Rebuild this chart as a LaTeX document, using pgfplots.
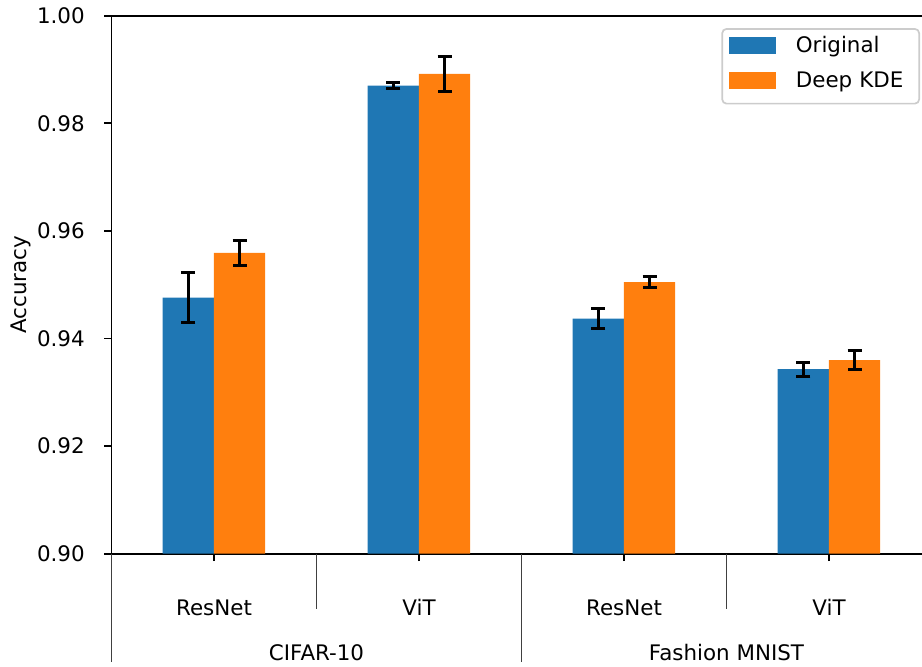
\documentclass[border=0pt]{standalone}
\usepackage{fontspec}
\setmainfont{DejaVu Sans}
\usepackage{pgfplots}
\pgfplotsset{compat=1.18}
\definecolor{tabblue}{HTML}{1F77B4}
\definecolor{taborange}{HTML}{FF7F0E}
\begin{document}
\begin{tikzpicture}
\path[use as bounding box] (0,0) rectangle (430.76pt,311.16pt);
\clip (0,0) rectangle (430.76pt,311.16pt);
\begin{axis}[
  at={(52.09pt,52.47pt)}, anchor=south west,
  scale only axis, width=383.1pt, height=251.35pt,
  xmin=-0.5, xmax=3.5, ymin=0.9, ymax=1.0,
  clip mode=individual,
  axis line style={line width=0.8pt, black},
  tick align=outside, major tick length=3.5pt,
  tick style={line width=0.8pt, black},
  xtick pos=left, ytick pos=left,
  xtick={0,1,2,3}, xticklabels={ResNet,ViT,ResNet,ViT},
  xticklabel style={anchor=base, inner sep=0pt, yshift=-25.5pt},
  ytick={0.90,0.92,0.94,0.96,0.98,1.00},
  /pgf/number format/assume math mode=true,
  yticklabel style={/pgf/number format/.cd, fixed, fixed zerofill, precision=2, /tikz/.cd, anchor=east, inner sep=0pt, xshift=-8.8pt},
  ylabel={Accuracy},
  ylabel style={at={(axis description cs:-0.1104,0.5)}, anchor=center},
  legend style={at={(0.986,0.977)}, anchor=north east, draw=black!20, line width=0.8pt,
    rounded corners=2pt, fill=white, inner xsep=3.3pt, inner ysep=3.5pt, row sep=4.9pt,
    nodes={inner sep=0pt, text height=7.5pt, text depth=4.0pt, text width=54.3pt, align=left},
    /tikz/every odd column/.append style={column sep=9.3pt}},
  legend cell align=left,
]
\addplot[ybar, bar width=0.25, bar shift=0pt, fill=tabblue, draw=none,
  legend image code/.code={\fill[tabblue, sharp corners] (0pt,-2.3pt) rectangle (21.8pt,5.3pt);},
  error bars/.cd, y dir=both, y explicit, error mark=|,
  error bar style={line width=1.4pt, black},
  error mark options={line width=1.4pt, black, mark size=3.25pt}]
coordinates {
  (-0.125,0.9476) +- (0,0.0047)
  (0.875,0.9870) +- (0,0.0005)
  (1.875,0.9437) +- (0,0.0019)
  (2.875,0.9343) +- (0,0.0013)
};
\addplot[ybar, bar width=0.25, bar shift=0pt, fill=taborange, draw=none,
  legend image code/.code={\fill[taborange, sharp corners] (0pt,-2.3pt) rectangle (21.8pt,5.3pt);},
  error bars/.cd, y dir=both, y explicit, error mark=|,
  error bar style={line width=1.4pt, black},
  error mark options={line width=1.4pt, black, mark size=3.25pt}]
coordinates {
  (0.125,0.9559) +- (0,0.0024)
  (1.125,0.9892) +- (0,0.0033)
  (2.125,0.9505) +- (0,0.0011)
  (3.125,0.9360) +- (0,0.0017)
};
\legend{Original, Deep KDE}
\draw[line width=0.6pt, black!75] (axis cs:-0.5,0.9) -- ++(0pt,-50.6pt);
\draw[line width=0.6pt, black!75] (axis cs:0.5,0.9) -- ++(0pt,-26pt);
\draw[line width=0.6pt, black!75] (axis cs:1.5,0.9) -- ++(0pt,-50.6pt);
\draw[line width=0.6pt, black!75] (axis cs:2.5,0.9) -- ++(0pt,-26pt);
\draw[line width=0.6pt, black!75] (axis cs:3.5,0.9) -- ++(0pt,-50.6pt);
\node[anchor=base, inner sep=0pt] at (axis cs:0.5,0.9) [yshift=-49.7pt] {CIFAR-10};
\node[anchor=base, inner sep=0pt] at (axis cs:2.5,0.9) [yshift=-49.7pt] {Fashion MNIST};
\end{axis}
\end{tikzpicture}
\end{document}
